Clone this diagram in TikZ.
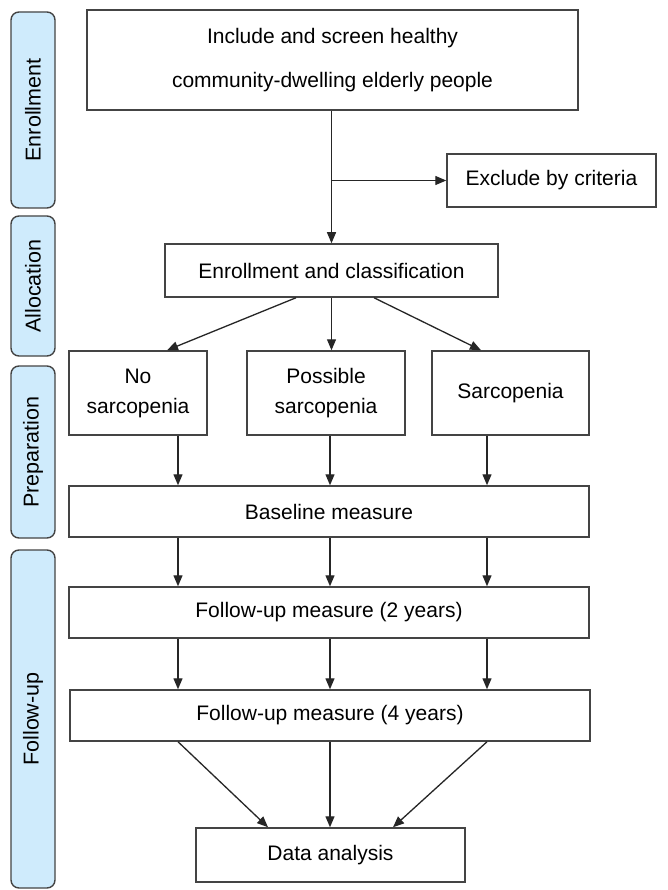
\documentclass[tikz,border=0pt]{standalone}
\usepackage{fontspec}
\setmainfont{Liberation Sans}
\usetikzlibrary{arrows.meta}
\definecolor{tabfill}{HTML}{CFEBFC}
\definecolor{edge}{HTML}{444444}
\begin{document}
\begin{tikzpicture}[x=1pt,y=-1pt,
  box/.style={draw=edge,line width=1.5pt,fill=white,inner sep=0pt,align=center,
    font=\fontsize{21}{25}\selectfont},
  tab/.style={draw=edge,line width=1.4pt,fill=tabfill,rounded corners=8pt,inner sep=0pt,
    rotate=90,minimum height=44pt,font=\fontsize{21.5}{25}\selectfont},
  arr/.style={draw=black!85,line width=1.3pt,-{Triangle[length=11pt,width=9pt]}},
  ln/.style={draw=black!85,line width=1.3pt}]
\useasboundingbox (0,0) rectangle (668,890);
\fill[white] (0,0) rectangle (668,890);

% side tabs
\node[tab,minimum width=196pt] (tenr) at (33,110) {Enrollment};
\node[tab,minimum width=140pt] (talloc) at (33,286) {Allocation};
\node[tab,minimum width=172pt] (tprep) at (33,452) {Preparation};
\node[tab,minimum width=338pt] (tfu) at (33,719) {Follow-up};

% boxes
\node[box,minimum width=491pt,minimum height=100pt,font=\fontsize{21}{44}\selectfont] (screen) at (332.5,60)
  {Include and screen healthy\\community-dwelling elderly people};
\node[box,minimum width=209pt,minimum height=53pt] (excl) at (551.5,180.5) {Exclude by criteria};
\node[box,minimum width=333pt,minimum height=53pt] (enroll) at (331.5,270.5) {Enrollment and classification};
\node[box,minimum width=138pt,minimum height=84pt,font=\fontsize{21}{30}\selectfont] (nos) at (138,393) {No\\sarcopenia};
\node[box,minimum width=158pt,minimum height=84pt,font=\fontsize{21}{30}\selectfont] (poss) at (326,393) {Possible\\sarcopenia};
\node[box,minimum width=157pt,minimum height=84pt] (sarc) at (510.5,393) {Sarcopenia};
\node[box,minimum width=520pt,minimum height=51pt] (base) at (329,511.5) {Baseline measure};
\node[box,minimum width=520pt,minimum height=51pt] (fu2) at (329,612.5) {Follow-up measure (2 years)};
\node[box,minimum width=520pt,minimum height=51pt] (fu4) at (330,715.5) {Follow-up measure (4 years)};
\node[box,minimum width=269pt,minimum height=54pt] (data) at (330.5,855) {Data analysis};

% connectors
\coordinate (junc) at (enroll.north |- excl.west);
\draw[ln] (screen.south -| junc) -- (junc);
\draw[arr] (junc) -- (enroll.north -| junc);
\draw[arr] (junc) -- (excl.west);

\draw[arr] ([xshift=-35.5pt]enroll.south) -- ([xshift=29pt]nos.north);
\draw[arr] (enroll.south) -- (enroll.south |- poss.north);
\draw[arr] ([xshift=42.5pt]enroll.south) -- ([xshift=-29.5pt]sarc.north);

\draw[arr] ([xshift=40pt]nos.south) -- ([xshift=40pt]nos.south |- base.north);
\draw[arr] ([xshift=4pt]poss.south) -- ([xshift=4pt]poss.south |- base.north);
\draw[arr] ([xshift=-23.5pt]sarc.south) -- ([xshift=-23.5pt]sarc.south |- base.north);

\draw[arr] ([xshift=40pt]nos.south |- base.south) -- ([xshift=40pt]nos.south |- fu2.north);
\draw[arr] ([xshift=4pt]poss.south |- base.south) -- ([xshift=4pt]poss.south |- fu2.north);
\draw[arr] ([xshift=-23.5pt]sarc.south |- base.south) -- ([xshift=-23.5pt]sarc.south |- fu2.north);

\draw[arr] ([xshift=40pt]nos.south |- fu2.south) -- ([xshift=40pt]nos.south |- fu4.north);
\draw[arr] ([xshift=4pt]poss.south |- fu2.south) -- ([xshift=4pt]poss.south |- fu4.north);
\draw[arr] ([xshift=-23.5pt]sarc.south |- fu2.south) -- ([xshift=-23.5pt]sarc.south |- fu4.north);

\draw[arr] ([xshift=40pt]nos.south |- fu4.south) -- ([xshift=-62.5pt]data.north);
\draw[arr] (fu4.south) -- (fu4.south |- data.north);
\draw[arr] ([xshift=-23.5pt]sarc.south |- fu4.south) -- ([xshift=62.5pt]data.north);
\end{tikzpicture}
\end{document}
